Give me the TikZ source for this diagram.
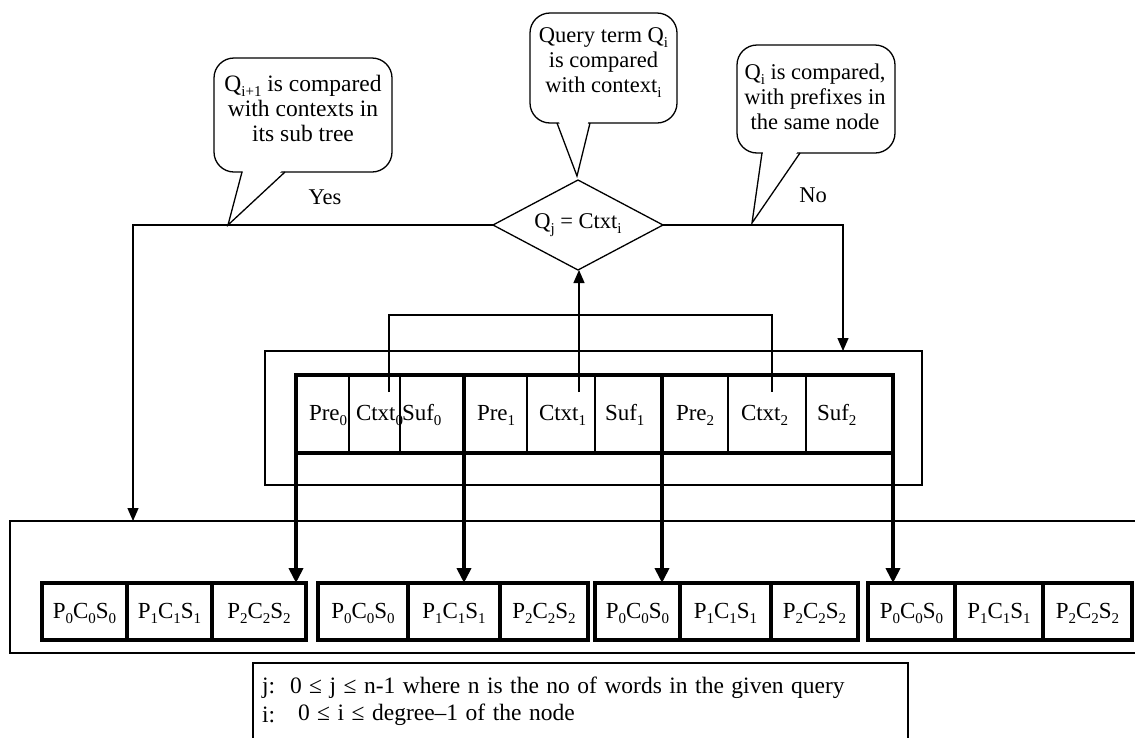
\documentclass[tikz,border=0pt]{standalone}
\usepackage{fontspec}
\setmainfont{Liberation Serif}
\usetikzlibrary{arrows.meta,shapes.geometric}
\newcommand\sbs[1]{\raisebox{-0.22em}{\fontsize{15}{15}\selectfont #1}}
\newcommand\notefont{\fontsize{23.5}{25}\selectfont\spaceskip=7.5pt\relax}
\begin{document}
\begin{tikzpicture}[x=1pt,y=-1pt,
  every node/.style={font=\fontsize{22.5}{25}\selectfont, inner sep=0pt, outer sep=0pt},
  thinl/.style={line width=1.3pt},
  thickl/.style={line width=4.5pt},
  arr/.style={-{Triangle[length=13pt,width=11pt]}},
  tarr/.style={-{Triangle[length=15pt,width=14pt]}},
  callbox/.style={draw, line width=1.3pt, rounded corners=20pt},
  boxthin/.style={draw, line width=1.3pt},
  boxthick/.style={draw, line width=4.5pt},
  txt/.style={align=center},
  cell/.style={anchor=base west, font=\fontsize{23}{25}\selectfont},
  leaf/.style={font=\fontsize{23}{25}\selectfont},
  notetxt/.style={anchor=west, font=\notefont}
]
\useasboundingbox (0,0) rectangle (1135,737);
\clip (0,0) rectangle (1135,737);

% ---------- callouts ----------
\node[callbox, minimum width=178pt, minimum height=114pt] (c1) at (303,115) {};
\fill[white] (243.5,169) -- (228,225) -- (283.5,169) -- cycle;
\draw[thinl, line join=miter] (242,172) -- (228,225) -- (285,172);
\node[txt, font=\fontsize{23.5}{25}\selectfont] (t1) at (303,108) {Q\sbs{i+1} is compared\\with contexts in\\its sub tree};

\node[callbox, minimum width=147pt, minimum height=110pt] (c2) at (603.5,68) {};
\fill[white] (558.5,120) -- (577,176) -- (588.5,120) -- cycle;
\draw[thinl] (557,123) -- (577,176) -- (590,123);
\node[txt] (t2) at (603.5,63) {Query term Q\sbs{i}\\is compared\\with context\sbs{i}};

\node[callbox, minimum width=158pt, minimum height=108pt] (c3) at (816,99) {};
\fill[white] (763.5,150) -- (752,223) -- (798.5,150) -- cycle;
\draw[thinl] (762,153) -- (752,223) -- (800,153);
\node[txt] (t3) at (815,97) {Q\sbs{i} is compared,\\with prefixes in\\the same node};

\node (yes) at (325,197) {Yes};
\node (no) at (813,195) {No};

% ---------- decision ----------
\node[diamond, draw, thinl, minimum width=170pt, minimum height=90pt] (dec) at (578,225) {};
\node (dect) at (578,225) {Q\sbs{j} = Ctxt\sbs{i}};

% ---------- boxes ----------
\node[boxthin, minimum width=657pt, minimum height=134pt] (mid) at (593.5,418) {};
\node[boxthin, minimum width=1145pt, minimum height=132pt] (low) at (582.5,587) {};
\node[boxthin, minimum width=655pt, minimum height=100pt] (note) at (580.5,713) {};

% ---------- main node ----------
\node[boxthick, minimum width=597pt, minimum height=78pt] (node) at (594.5,414) {};
\foreach \x in {349,400,527,595,728,806} \draw[thinl] (\x,375) -- (\x,453);
\foreach \x in {464,662} \draw[thickl] (\x,375) -- (\x,453);

\node[cell] (p0) at (309,420) {Pre\sbs{0}};
\node[cell] (x0) at (356,420) {Ctxt\sbs{0}};
\node[cell] (s0) at (402,420) {Suf\sbs{0}};
\node[cell] (p1) at (477,420) {Pre\sbs{1}};
\node[cell] (x1) at (539,420) {Ctxt\sbs{1}};
\node[cell] (s1) at (605,420) {Suf\sbs{1}};
\node[cell] (p2) at (676,420) {Pre\sbs{2}};
\node[cell] (x2) at (741,420) {Ctxt\sbs{2}};
\node[cell] (s2) at (817,420) {Suf\sbs{2}};

\coordinate (ctx0) at (389,392);
\coordinate (ctx1) at (579,392);
\coordinate (ctx2) at (772,392);
\draw[thinl] (ctx0) -- (389,315) -- (772,315) -- (ctx2);
\draw[thinl, arr] (ctx1) -- (ctx1 |- dec.south);

% ---------- yes / no lines ----------
\coordinate (lt) at (133,225);
\coordinate (rt) at (843,225);
\draw[thinl, arr] (dec.west) -- (lt) -- (lt |- low.north);
\draw[thinl, arr] (dec.east) -- (rt) -- (rt |- mid.north);

% ---------- child nodes ----------
\node[boxthick, minimum width=264pt, minimum height=57pt] (g1) at (174,611.5) {};
\node[boxthick, minimum width=270pt, minimum height=57pt] (g2) at (453,611.5) {};
\node[boxthick, minimum width=263pt, minimum height=57pt] (g3) at (726.5,611.5) {};
\node[boxthick, minimum width=264pt, minimum height=57pt] (g4) at (1000,611.5) {};
\foreach \x in {127,212,408,500,680,771,955,1043} \draw[thickl] (\x,583) -- (\x,640);

\foreach \a/\b/\c [count=\k] in {42/127/212, 318/408/500, 595/680/771, 868/955/1043}{
  \pgfmathsetmacro\xa{(\a+\b)/2}
  \pgfmathsetmacro\xb{(\b+\c)/2}
  \node[leaf] (e\k a) at (\xa,613) {P\sbs{0}C\sbs{0}S\sbs{0}};
  \node[leaf] (e\k b) at (\xb,613) {P\sbs{1}C\sbs{1}S\sbs{1}};
}
\node[leaf] (e1c) at (259,613) {P\sbs{2}C\sbs{2}S\sbs{2}};
\node[leaf] (e2c) at (544,613) {P\sbs{2}C\sbs{2}S\sbs{2}};
\node[leaf] (e3c) at (814.5,613) {P\sbs{2}C\sbs{2}S\sbs{2}};
\node[leaf] (e4c) at (1087.5,613) {P\sbs{2}C\sbs{2}S\sbs{2}};

\coordinate (d1) at (296,453);
\coordinate (d2) at (464,453);
\coordinate (d3) at (662,453);
\coordinate (d4) at (893,453);
\draw[thickl, tarr] (d1) -- (d1 |- g1.north);
\draw[thickl, tarr] (d2) -- (d2 |- g2.north);
\draw[thickl, tarr] (d3) -- (d3 |- g3.north);
\draw[thickl, tarr] (d4) -- (d4 |- g4.north);

% ---------- note ----------
\node[notetxt] (nj) at (262,688) {j:};
\node[notetxt] (nj2) at (290,688) {0 ≤ j ≤ n-1 where n is the no of words in the given query};
\node[notetxt] (ni) at (262,715) {i:};
\node[notetxt] (ni2) at (298,715) {0 ≤ i ≤ degree–1 of the node};
\end{tikzpicture}
\end{document}
